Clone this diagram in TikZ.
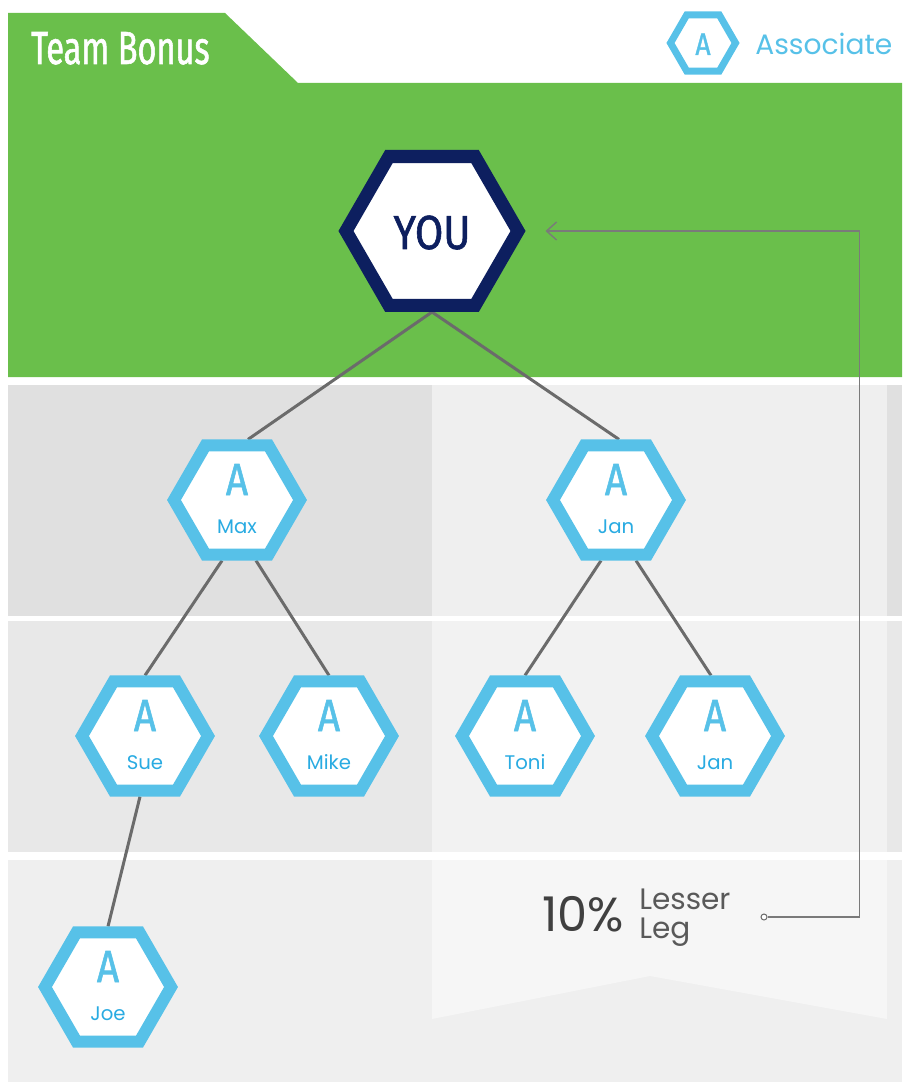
\documentclass[tikz,border=0pt]{standalone}
\usepackage{fontspec}
\setmainfont{Poppins}
\newfontfamily\condfont[FakeStretch=0.7, FakeBold=1.2]{Fira Sans}
\newfontfamily\hexfont[FakeStretch=0.86, FakeBold=1.2]{Fira Sans}
\usetikzlibrary{arrows.meta,calc,shapes.geometric}

\definecolor{teamgreen}{HTML}{6ABF4B}
\definecolor{navy}{HTML}{0D1F5F}
\definecolor{assocblue}{HTML}{57C1E8}
\definecolor{nameblue}{HTML}{29ABE2}
\definecolor{linegray}{HTML}{6B6B6B}
\definecolor{bandone}{HTML}{E0E0E0}
\definecolor{bandonelight}{HTML}{EFEFEF}
\definecolor{bandtwo}{HTML}{E8E8E8}
\definecolor{bandtwolight}{HTML}{F2F2F2}
\definecolor{bandthree}{HTML}{EFEFEF}
\definecolor{pennant}{HTML}{F6F6F6}

\pgfdeclarelayer{back}
\pgfsetlayers{back,main}

\tikzset{
  hexa/.style={regular polygon, regular polygon sides=6, inner sep=0pt, fill=white},
  assoc/.style={hexa, draw=assocblue, line width=0.3cm, minimum size=3.15cm},
  letter/.style={anchor=base, text=assocblue, font=\hexfont\fontsize{32}{32}\selectfont},
  member/.style={anchor=base, text=nameblue, font=\fontsize{14}{14}\selectfont},
  tree/.style={draw=linegray, line width=0.075cm},
  link/.style={draw=linegray!90, line width=0.035cm}
}

\begin{document}
\begin{tikzpicture}[x=0.025cm, y=-0.025cm]
\useasboundingbox (0,0) rectangle (904,1082);

% bands
\begin{pgfonlayer}{back}
\fill[bandone] (8,385) rectangle (902,616);
\fill[bandonelight] (432,385) rectangle (887,616);
\fill[bandtwo] (8,621) rectangle (902,852);
\fill[bandtwolight] (432,621) rectangle (887,852);
\fill[bandthree] (8,860) rectangle (902,1082);
\fill[pennant] (432,860) -- (887,860) -- (887,1019) -- (650,976) -- (432,1019) -- cycle;
\fill[teamgreen] (8,13) -- (225,13) -- (298,83) -- (902,83) -- (902,377) -- (8,377) -- cycle;
\end{pgfonlayer}

% header
\node[anchor=base west, text=white, inner sep=0pt,
  font=\condfont\fontsize{33}{33}\selectfont] (title) at (31,64) {Team Bonus};
\node[hexa, draw=assocblue, line width=0.175cm, minimum size=1.625cm] (legend) at (703,43) {};
\node[anchor=base, text=assocblue, inner sep=0pt,
  font=\hexfont\fontsize{22}{22}\selectfont] at ($(legend)+(0,12)$) {A};
\node[anchor=base west, text=assocblue, inner sep=0pt,
  font=\fontsize{20}{20}\selectfont] (assoctext) at (755,55) {Associate};

% you
\node[hexa, draw=navy, line width=0.325cm, minimum size=4.3cm] (you) at (432,231) {};
\node[anchor=base, text=navy, inner sep=0pt,
  font=\hexfont\fontsize{34}{34}\selectfont] at ($(you)+(0,18)$) {YOU};

% associates
\foreach \n/\x/\y/\t in {max/237/500/Max, jan/616/500/Jan, sue/145/736/Sue,
  mike/329/736/Mike, toni/525/736/Toni, jantwo/715/736/Jan, joe/108/987/Joe} {
  \node[assoc] (\n) at (\x,\y) {};
  \node[letter, inner sep=0pt] at ($(\n)+(0,-5)$) {A};
  \node[member, inner sep=0pt] at ($(\n)+(0,33)$) {\t};
}

% tree lines
\begin{pgfonlayer}{back}
\draw[tree] (you.south) -- ($(max.north)+(11,0)$);
\draw[tree] (you.south) -- ($(jan.north)+(3,0)$);
\draw[tree] ($(max.south)+(-15,0)$) -- (sue.north);
\draw[tree] ($(max.south)+(19,0)$) -- (mike.north);
\draw[tree] ($(jan.south)+(-15,0)$) -- (toni.north);
\draw[tree] ($(jan.south)+(20,0)$) -- ($(jantwo.north)+(-4,0)$);
\draw[tree] ($(sue.south)+(-5,0)$) -- (joe.north);
\end{pgfonlayer}

% lesser leg
\node[anchor=base west, inner sep=0pt, text=black!75,
  font=\fontsize{34}{34}\selectfont] (pct) at (542,931) {10\%};
\node[anchor=base west, inner sep=0pt, text=black!65,
  font=\fontsize{21}{21}\selectfont] (lesser) at (639,909) {Lesser};
\node[anchor=base west, inner sep=0pt, text=black!65,
  font=\fontsize{21}{21}\selectfont] (leg) at (639,938) {Leg};
\node[circle, draw=linegray, fill=white, line width=0.025cm, inner sep=0pt,
  minimum size=0.15cm] (legdot) at (764,917) {};
\coordinate (youtip) at ($(you.east)+(20,0)$);
\draw[link, -{Straight Barb[length=0.25cm, width=0.45cm]}] (legdot.east) -- ++(92,0) |- (youtip);
\end{tikzpicture}
\end{document}
